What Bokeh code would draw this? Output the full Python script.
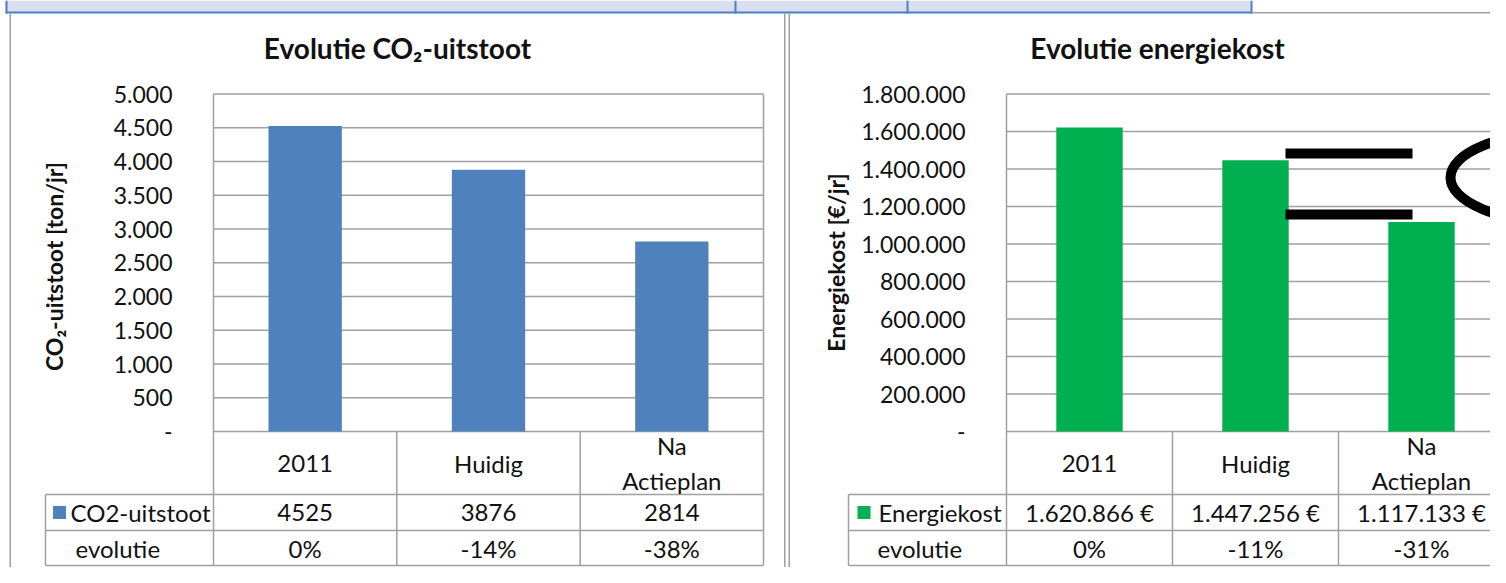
import math
from bokeh.plotting import figure
from bokeh.models import Range1d
from bokeh.embed import file_html
from bokeh.resources import INLINE
from bokeh.core.properties import value

# ---------------- data ----------------
categories = ["2011", "Huidig", "Na\nActieplan"]
co2_values = [4525, 3876, 2814]
co2_evolution = ["0%", "-14%", "-38%"]
cost_values = [1620866, 1447256, 1117133]
cost_evolution = ["0%", "-11%", "-31%"]
co2_ticks = [0, 500, 1000, 1500, 2000, 2500, 3000, 3500, 4000, 4500, 5000]
co2_tick_labels = ["-", "500", "1.000", "1.500", "2.000", "2.500", "3.000",
                   "3.500", "4.000", "4.500", "5.000"]
cost_ticks = [0, 200000, 400000, 600000, 800000, 1000000, 1200000, 1400000,
              1600000, 1800000]
cost_tick_labels = ["-", "200.000", "400.000", "600.000", "800.000", "1.000.000",
                    "1.200.000", "1.400.000", "1.600.000", "1.800.000"]

# ---------------- style / layout constants ----------------
FONT = "Lato"
GRID = "#a0a0a0"
TXT = "#111111"
BLUE = "#4f81bd"
GREEN = "#00b050"
BAND_FILL = "#d9dff0"
BAND_LINE = "#4f7fc0"
TICK_SIZE = "23px"
TABLE_SIZE = "24px"
TITLE_SIZE = "28px"
AXLABEL_SIZE = "23px"

W, H = 1490, 567
ZERO_Y = 431.0      # pixel row of value 0 (plot bottom / table top)
TOP_Y = 93.5        # pixel row of the plot-area top
HEAD_B, ROW1_B, ROW2_B = 494, 530, 565   # table row bottoms


def eu_num(v):
    return f"{v:,}".replace(",", ".")


p = figure(width=W, height=H, x_range=Range1d(0, W), y_range=Range1d(H, 0),
           output_backend="svg", toolbar_location=None, x_axis_location=None,
           y_axis_location=None, min_border=0)
p.outline_line_color = None
p.background_fill_color = "white"
p.border_fill_color = "white"
p.grid.visible = False

txt = dict(text_font=value(FONT), text_color=TXT, text_baseline="middle")

# ---------------- top band and chart frames (decoration) ----------------
p.quad(left=[5], right=[1251], top=[0], bottom=[11.5], fill_color=BAND_FILL, line_color=None)
p.quad(left=[5], right=[1252], top=[11], bottom=[13], fill_color=BAND_LINE, line_color=None)
p.quad(left=[5, 734, 906, 1250], right=[7, 736, 908, 1252], top=[0] * 4, bottom=[13] * 4,
       fill_color=BAND_LINE, line_color=None)
p.quad(left=[1252], right=[W], top=[11.5], bottom=[13], fill_color=GRID, line_color=None)
p.quad(left=[9, 783.5, 788], right=[10.5, 785, 789.5], top=[13] * 3, bottom=[H] * 3,
       fill_color=GRID, line_color=None)

charts = [
    dict(key="L", plot_left=213.0, colw=550.0 / 3, ymax=5000, ticks=co2_ticks,
         tick_labels=co2_tick_labels, values=co2_values,
         value_txt=[str(v) for v in co2_values], evol=co2_evolution, color=BLUE,
         title="Evolutie CO\u2082-uitstoot", title_x=397,
         ylabel="CO\u2082-uitstoot [ton/jr]", ylabel_x=53, ylabel_y=266, tick_x=172,
         legend_left=45, swatch_x=59, legend_x=70, evol_x=75, legend="CO2-uitstoot"),
    dict(key="R", plot_left=1006.0, colw=166.0, ymax=1800000, ticks=cost_ticks,
         tick_labels=cost_tick_labels, values=cost_values,
         value_txt=[eu_num(v) + " \u20ac" for v in cost_values], evol=cost_evolution,
         color=GREEN, title="Evolutie energiekost", title_x=1157,
         ylabel="Energiekost [\u20ac/jr]", ylabel_x=835, ylabel_y=262, tick_x=965,
         legend_left=848, swatch_x=863.5, legend_x=878, evol_x=877, legend="Energiekost"),
]

for c in charts:
    xn, yn = "x" + c["key"], "y" + c["key"]
    k = (ZERO_Y - TOP_Y) / c["ymax"]
    p.extra_x_ranges[xn] = Range1d(-c["plot_left"] / c["colw"], (W - c["plot_left"]) / c["colw"])
    p.extra_y_ranges[yn] = Range1d(-(H - ZERO_Y) / k, ZERO_Y / k)
    n = len(c["values"])
    cx = [i + 0.5 for i in range(n)]
    plot_right = c["plot_left"] + n * c["colw"]

    # gridlines (incl. top of plot and bottom = table top)
    ticks = c["ticks"]
    p.segment(x0=[0] * len(ticks), x1=[n] * len(ticks), y0=ticks, y1=ticks,
              x_range_name=xn, y_range_name=yn, line_color=GRID, line_width=1.5)
    # bars
    p.vbar(x=cx, top=c["values"], width=0.4, x_range_name=xn, y_range_name=yn,
           fill_color=c["color"], line_color=None)
    # tick labels
    p.text(x=[c["tick_x"]] * len(ticks), y=ticks, text=c["tick_labels"], y_range_name=yn,
           text_align="right", text_font_size=TICK_SIZE, **txt)
    # plot-area sides and table column lines
    p.segment(x0=list(range(n + 1)), x1=list(range(n + 1)),
              y0=[TOP_Y] + [ZERO_Y] * (n - 1) + [TOP_Y], y1=[ROW2_B] * (n + 1),
              x_range_name=xn, line_color=GRID, line_width=1.5)
    # table row lines and legend column
    p.segment(x0=[c["legend_left"]] * 3, x1=[plot_right] * 3,
              y0=[HEAD_B, ROW1_B, ROW2_B], y1=[HEAD_B, ROW1_B, ROW2_B],
              line_color=GRID, line_width=1.5)
    p.segment(x0=[c["legend_left"]], x1=[c["legend_left"]], y0=[HEAD_B], y1=[ROW2_B],
              line_color=GRID, line_width=1.5)
    # table texts
    p.text(x=cx, y=[(ZERO_Y + HEAD_B) / 2] * n, text=categories, x_range_name=xn,
           text_align="center", text_font_size=TABLE_SIZE, text_line_height=1.2, **txt)
    p.text(x=cx, y=[(HEAD_B + ROW1_B) / 2] * n, text=c["value_txt"], x_range_name=xn,
           text_align="center", text_font_size=TABLE_SIZE, **txt)
    p.text(x=cx, y=[(ROW1_B + ROW2_B) / 2] * n, text=c["evol"], x_range_name=xn,
           text_align="center", text_font_size=TABLE_SIZE, **txt)
    p.rect(x=[c["swatch_x"]], y=[(HEAD_B + ROW1_B) / 2], width=13, height=13,
           fill_color=c["color"], line_color=None)
    p.text(x=[c["legend_x"]], y=[(HEAD_B + ROW1_B) / 2], text=[c["legend"]],
           text_align="left", text_font_size=TABLE_SIZE, **txt)
    p.text(x=[c["evol_x"]], y=[(ROW1_B + ROW2_B) / 2], text=["evolutie"],
           text_align="left", text_font_size=TABLE_SIZE, **txt)
    # title and y-axis label
    p.text(x=[c["title_x"]], y=[47], text=[c["title"]], text_align="center",
           text_font_style="bold", text_font_size=TITLE_SIZE, **txt)
    p.text(x=[c["ylabel_x"]], y=[c["ylabel_y"]], text=[c["ylabel"]], angle=math.pi / 2,
           text_align="center", text_font_style="bold", text_font_size=AXLABEL_SIZE, **txt)

# black hand-drawn overlay marks on the right chart (decoration)
p.rect(x=[1348.5, 1348.5], y=[153, 214], width=127, height=10,
       fill_color="black", line_color=None)
p.ellipse(x=[1561], y=[177], width=222, height=90, fill_color=None,
          line_color="black", line_width=10)

open("out.html", "w").write(file_html(p, INLINE))
